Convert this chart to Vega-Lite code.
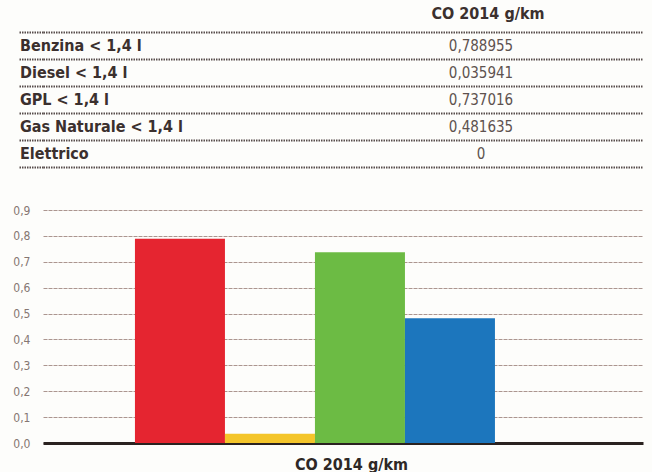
{
  "$schema": "https://vega.github.io/schema/vega-lite/v6.json",
  "background": "#fdfdfb",
  "padding": {"left": 12, "top": 5, "right": 9, "bottom": 0},
  "spacing": 36,
  "config": {
    "locale": {"number": {"decimal": ",", "thousands": ".", "grouping": [3], "currency": ["", " €"]}},
    "view": {"stroke": null},
    "font": "DejaVu Sans Condensed"
  },
  "datasets": {
    "co": [
      {"Tipo": "Benzina < 1,4 l", "valore": 0.788955},
      {"Tipo": "Diesel < 1,4 l", "valore": 0.035941},
      {"Tipo": "GPL < 1,4 l", "valore": 0.737016},
      {"Tipo": "Gas Naturale < 1,4 l", "valore": 0.481635},
      {"Tipo": "Elettrico", "valore": 0}
    ]
  },
  "vconcat": [
    {
      "width": 600,
      "height": 162,
      "encoding": {
        "y": {
          "field": "Tipo",
          "type": "nominal",
          "scale": {
            "type": "band",
            "domain": ["CO 2014 g/km", "Benzina < 1,4 l", "Diesel < 1,4 l", "GPL < 1,4 l", "Gas Naturale < 1,4 l", "Elettrico"],
            "paddingInner": 0,
            "paddingOuter": 0
          },
          "axis": {
            "title": null,
            "labels": false,
            "domain": false,
            "bandPosition": 1,
            "grid": true,
            "gridDash": [1.5, 1],
            "gridWidth": 2,
            "gridColor": "#3a2d2a",
            "gridOpacity": 0.85,
            "ticks": true,
            "tickSize": 25,
            "tickDash": [1.5, 1],
            "tickWidth": 2,
            "tickColor": "#3a2d2a",
            "tickOpacity": 0.85
          }
        }
      },
      "layer": [
        {
          "data": {"name": "co"},
          "mark": {"type": "text", "align": "left", "baseline": "middle", "fontWeight": "bold", "fontSize": 16, "color": "#3b302e", "dx": -23},
          "encoding": {
            "x": {"datum": "name", "type": "nominal", "bandPosition": 0, "scale": {"type": "band", "domain": ["name", "value"], "paddingInner": 0, "paddingOuter": 0}, "axis": null},
            "text": {"field": "Tipo"}
          }
        },
        {
          "data": {"name": "co"},
          "mark": {"type": "text", "align": "center", "baseline": "middle", "fontSize": 15, "color": "#5e524f", "dx": -12},
          "encoding": {
            "x": {"datum": "value", "type": "nominal"},
            "text": {"field": "valore", "type": "quantitative", "format": "~f"}
          }
        },
        {
          "data": {"values": [{"Tipo": "CO 2014 g/km"}]},
          "mark": {"type": "text", "align": "center", "baseline": "middle", "fontWeight": "bold", "fontSize": 16, "color": "#3b302e", "dy": -5, "dx": -5},
          "encoding": {
            "x": {"datum": "value", "type": "nominal"},
            "text": {"field": "Tipo"}
          }
        }
      ]
    },
    {
      "width": 600,
      "height": 233,
      "data": {"name": "co"},
      "mark": {"type": "bar"},
      "encoding": {
        "x": {
          "field": "Tipo",
          "type": "nominal",
          "sort": null,
          "scale": {
            "domain": ["Benzina < 1,4 l", "Diesel < 1,4 l", "GPL < 1,4 l", "Gas Naturale < 1,4 l", "Elettrico"],
            "paddingInner": 0,
            "paddingOuter": 0.8333,
            "align": 0.613
          },
          "axis": {
            "title": "CO 2014 g/km",
            "labels": false,
            "ticks": false,
            "domainColor": "#2a2220",
            "domainWidth": 3,
            "titleFontSize": 16,
            "titleFontWeight": "bold",
            "titleColor": "#2e2826",
            "titlePadding": 13,
            "titleX": 308
          }
        },
        "y": {
          "field": "valore",
          "type": "quantitative",
          "scale": {"domain": [0, 0.9]},
          "axis": {
            "title": null,
            "values": [0, 0.1, 0.2, 0.3, 0.4, 0.5, 0.6, 0.7, 0.8, 0.9],
            "format": ".1f",
            "domain": false,
            "ticks": false,
            "labelPadding": 13,
            "labelFontSize": 12,
            "labelColor": "#857672",
            "gridColor": "#8f726b",
            "gridDash": [4, 1],
            "gridWidth": 1,
            "gridOpacity": 0.75
          }
        },
        "color": {
          "field": "Tipo",
          "type": "nominal",
          "scale": {
            "domain": ["Benzina < 1,4 l", "Diesel < 1,4 l", "GPL < 1,4 l", "Gas Naturale < 1,4 l", "Elettrico"],
            "range": ["#e52530", "#f4c52a", "#6cbb44", "#1c76bd", "#888888"]
          },
          "legend": null
        }
      }
    }
  ]
}
